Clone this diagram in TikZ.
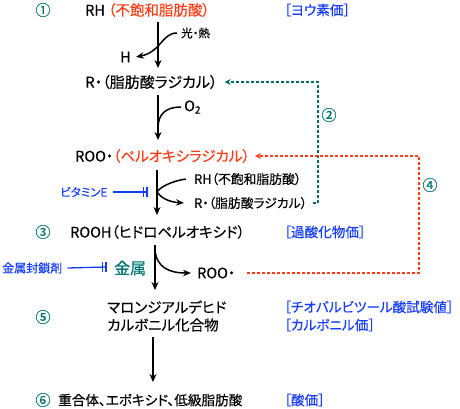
\documentclass[tikz,border=0pt]{standalone}
\usepackage{fontspec}
\setmainfont{Noto Sans CJK JP}[RawFeature=+palt, FakeBold=0.3]
\usetikzlibrary{arrows.meta}
\definecolor{myred}{RGB}{255,60,20}
\definecolor{myblue}{RGB}{20,60,255}
\definecolor{myteal}{RGB}{0,115,115}
\definecolor{mygreen}{RGB}{0,105,100}
\begin{document}
\begin{tikzpicture}[x=1pt,y=-1pt,
  font=\fontsize{14.5}{16}\selectfont,
  every node/.style={inner sep=0pt, anchor=west},
  mainarrow/.style={line width=1.7pt, -{Stealth[length=8pt,width=7pt]}},
  curveline/.style={line width=1.5pt},
  curvearrow/.style={line width=1.5pt, -{Stealth[length=8pt,width=6.5pt]}},
  num/.style={text=myteal, font=\fontsize{15}{17}\selectfont, anchor=center},
  lbl/.style={text=myblue, font=\fontsize{13.6}{15}\selectfont},
  smalltext/.style={font=\fontsize{12.8}{14}\selectfont},
  tinytext/.style={font=\fontsize{11.5}{13}\selectfont},
  inhib/.style={draw=myblue, line width=1.3pt},
  greendots/.style={draw=mygreen, line width=2pt, dash pattern=on 3pt off 2pt, -{Stealth[length=6pt,width=6pt]}},
  reddots/.style={draw=myred, line width=2pt, dash pattern=on 3pt off 2pt, -{Stealth[length=6pt,width=6pt]}}
]
\useasboundingbox (0,0) rectangle (460,409);

% nodes
\node[num] (n1) at (43,10) {①};
\node (rh) at (85,10) {RH \textcolor{myred}{（不飽和脂肪酸）}};
\node[lbl] (iv) at (284,10) {［ヨウ素価］};
\node[tinytext] (heat) at (181,33) {光・熱};
\node (h) at (120,57) {H};
\node[font=\fontsize{15}{17}\selectfont] (r) at (85,82) {R・（脂肪酸ラジカル）};
\node (o2) at (184,107) {O\textsubscript{2}};
\node[num] (n2) at (329,115) {②};
\node (roo) at (75,156) {ROO・\textcolor{myred}{（ペルオキシラジカル）}};
\node[num] (n4) at (430,185) {④};
\node[smalltext] (rh2) at (194,179) {RH（不飽和脂肪酸）};
\node[smalltext] (r2) at (194,203) {R・（脂肪酸ラジカル）};
\node[lbl,tinytext] (vite) at (60,192) {ビタミンE};
\node[num] (n3) at (43,232) {③};
\node (rooh) at (70,232) {ROOH（ヒドロペルオキシド）};
\node[lbl] (pv) at (284,232) {［過酸化物価］};
\node[lbl,font=\fontsize{12}{13}\selectfont] (chel) at (2,268) {金属封鎖剤};
\node[text=myteal,font=\fontsize{16}{18}\selectfont] (metal) at (114,268) {金属};
\node (roo2) at (197,273) {ROO・};
\node[num] (n5) at (43,317) {⑤};
\node (mda) at (107,307) {マロンジアルデヒド};
\node (carb) at (107,325) {カルボニル化合物};
\node[lbl] (tba) at (284,307) {［チオバルビツール酸試験値］};
\node[lbl] (cv) at (284,325) {［カルボニル価］};
\node[num] (n6) at (43,400) {⑥};
\node[font=\fontsize{13.6}{15}\selectfont] (poly) at (58,400) {重合体、エポキシド、低級脂肪酸};
\node[lbl] (av) at (284,400) {［酸価］};

% spine coordinates
\coordinate (a1s) at (158,22);  \coordinate (a1e) at (158,68);
\coordinate (a2s) at (158,95);  \coordinate (a2e) at (158,140);
\coordinate (a3s) at (157,170); \coordinate (a3e) at (157,215);
\coordinate (a4s) at (155,245); \coordinate (a4e) at (155,290);
\coordinate (a5s) at (153,337); \coordinate (a5e) at (153,382);
\coordinate (join2) at (158,128);
\coordinate (join3) at (157,192);
\coordinate (join4) at (155,249);
\coordinate (gcorner) at (318,82);
\coordinate (rcorner) at (419,156);

% main arrows
\draw[mainarrow] (a1s) -- (a1e);
\draw[mainarrow] (a2s) -- (a2e);
\draw[mainarrow] (a3s) -- (a3e);
\draw[mainarrow] (a4s) -- (a4e);
\draw[mainarrow] (a5s) -- (a5e);

% side curves
\draw[curvearrow] ([xshift=-4pt]heat.west) .. controls (162,33) and (161,52) .. ([xshift=5pt]h.east);
\draw[curveline] ([xshift=-3pt]o2.west) .. controls (166,107) and (158,114) .. (join2);
\draw[curveline] ([xshift=-8pt]rh2.west) .. controls (172,181) and (160,187) .. (join3);
\draw[curvearrow] (join3) .. controls (162,199) and (170,202) .. ([xshift=-10pt]r2.west);
\draw[curvearrow] (join4) .. controls (156,268) and (170,273) .. ([xshift=-6pt]roo2.west);

% dotted feedback
\draw[greendots] ([xshift=6pt]r2.east) -| (gcorner) -- ([xshift=7pt]r.east);
\draw[reddots] ([xshift=12pt]roo2.east) -| (rcorner) -- ([xshift=5pt]roo.east);

% inhibitors
\coordinate (vbar) at (147,192);
\draw[inhib] ([xshift=6pt]vite.east) -- (vbar);
\draw[inhib] (143.5,187) -- (143.5,197) (147,187) -- (147,197);
\coordinate (mbar) at (106,267);
\draw[inhib] ([xshift=5pt]chel.east) -- (mbar);
\draw[inhib] (102.5,262) -- (102.5,272) (106,262) -- (106,272);
\end{tikzpicture}
\end{document}
